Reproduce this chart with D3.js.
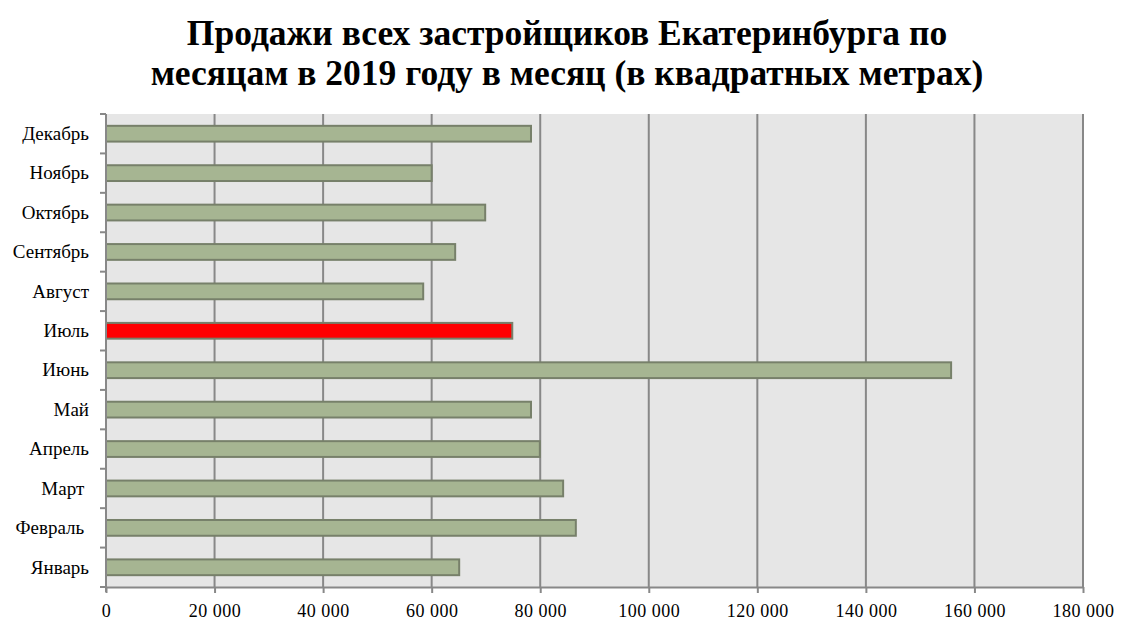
<!DOCTYPE html>
<html>
<head>
<meta charset="utf-8">
<script src="https://d3js.org/d3.v7.min.js"></script>
<style>
  html, body { margin: 0; padding: 0; background: #ffffff; }
  svg { display: block; }
</style>
</head>
<body>
<svg id="chart" width="1126" height="627"></svg>
<script>
const months = ["Январь", "Февраль ", "Март ", "Апрель", "Май", "Июнь", "Июль", "Август", "Сентябрь", "Октябрь", "Ноябрь", "Декабрь"];
const sales = [65070, 86560, 84220, 79930, 78300, 155700, 74850, 58440, 64330, 69860, 60000, 78300];
const highlight = ["Июль"];
const xTicks = [0, 20000, 40000, 60000, 80000, 100000, 120000, 140000, 160000, 180000];
const titleLines = ["Продажи всех застройщиков Екатеринбурга по", "месяцам в 2019 году в месяц (в квадратных метрах)"];

const svg = d3.select("#chart");
const W = 1126, H = 627;
const m = { left: 106, right: W - 1083, top: 114, bottom: H - 587 };
const iw = W - m.left - m.right, ih = H - m.top - m.bottom;
const serif = "'Liberation Serif', 'DejaVu Serif', serif";

const x = d3.scaleLinear().domain([0, 180000]).range([0, iw]);
const y = d3.scaleBand().domain(months.slice().reverse()).range([0, ih]).paddingInner(0.6).paddingOuter(0.3);

const g = svg.append("g").attr("transform", `translate(${m.left},${m.top})`);

g.append("rect").attr("x", 0).attr("y", 0).attr("width", iw).attr("height", ih).attr("fill", "#e6e6e6");

// gridlines
g.selectAll("line.grid").data(xTicks.filter(d => d > 0)).join("line")
  .attr("class", "grid")
  .attr("x1", d => x(d)).attr("x2", d => x(d))
  .attr("y1", 0).attr("y2", ih)
  .attr("stroke", "#888888").attr("stroke-width", 2);

// bars
g.selectAll("rect.bar").data(months).join("rect")
  .attr("class", "bar")
  .attr("x", 0)
  .attr("y", d => y(d))
  .attr("width", (d, i) => x(sales[i]))
  .attr("height", y.bandwidth())
  .attr("fill", d => highlight.includes(d) ? "#ff0000" : "#a6b592")
  .attr("stroke", "#77806a").attr("stroke-width", 2);

// x axis
const xAxis = d3.axisBottom(x).tickValues(xTicks).tickSize(6).tickSizeOuter(0)
  .tickFormat(d => d3.format(",")(d).replace(/,/g, "\u00a0"));
const xa = g.append("g").attr("transform", `translate(0,${ih})`).call(xAxis);
xa.select(".domain").attr("stroke", "#888888").attr("stroke-width", 2);
xa.selectAll(".tick line").attr("stroke", "#888888").attr("stroke-width", 2);
xa.selectAll(".tick text").attr("font-family", serif).attr("font-size", 18).attr("fill", "#000")
  .attr("dy", "1.17em").attr("letter-spacing", "0.5px");

// y axis with ticks at band boundaries
const ya = g.append("g");
ya.append("line").attr("x1", 0).attr("x2", 0).attr("y1", 0).attr("y2", ih + 5)
  .attr("stroke", "#888888").attr("stroke-width", 2);
const step = y.step();
const bounds = d3.range(months.length + 1).map(i => i * step);
ya.selectAll("line.yt").data(bounds).join("line")
  .attr("class", "yt")
  .attr("x1", -6).attr("x2", 0).attr("y1", d => d).attr("y2", d => d)
  .attr("stroke", "#888888").attr("stroke-width", 2);
ya.selectAll("text").data(months).join("text")
  .attr("x", -17)
  .attr("y", d => y(d) + y.bandwidth() / 2)
  .attr("dy", "0.33em")
  .attr("text-anchor", "end")
  .style("white-space", "pre")
  .attr("font-family", serif).attr("font-size", 19).attr("fill", "#000")
  .text(d => d);

// title
svg.append("g").selectAll("text").data(titleLines).join("text")
  .attr("x", 567).attr("y", (d, i) => 45 + i * 40)
  .attr("text-anchor", "middle")
  .attr("font-family", serif).attr("font-weight", "bold").attr("font-size", 35.5)
  .attr("fill", "#000")
  .text(d => d);
</script>
</body>
</html>
